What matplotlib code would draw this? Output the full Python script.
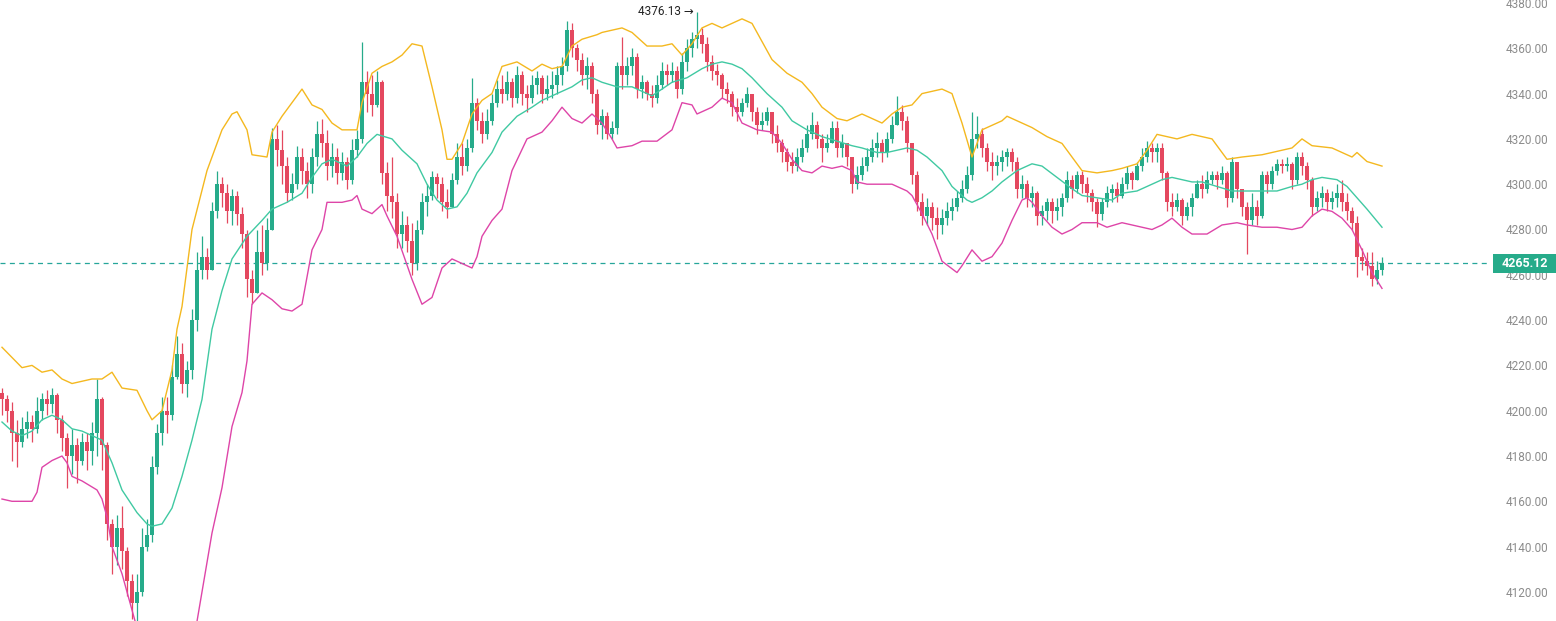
import matplotlib
matplotlib.use("Agg")
import matplotlib.pyplot as plt
from matplotlib.patches import Rectangle
from matplotlib.transforms import blended_transform_factory
import numpy as np

plt.rcParams['font.family'] = ['Roboto', 'DejaVu Sans']

# candle data (one candle per bar)
closes = [
    4205, 4200, 4190, 4186, 4192, 4195, 4192, 4200, 4205, 4203,
    4207, 4196, 4188, 4180, 4185, 4178, 4186, 4182, 4190, 4205,
    4185, 4150, 4140, 4148, 4138, 4125, 4115, 4120, 4140, 4145,
    4175, 4190, 4200, 4198, 4215, 4225, 4212, 4218, 4240, 4262,
    4268, 4262, 4288, 4300, 4296, 4288, 4295, 4287, 4278, 4258,
    4252, 4270, 4265, 4280, 4320, 4315, 4308, 4296, 4300, 4312,
    4306, 4300, 4312, 4322, 4318, 4308, 4312, 4305, 4310, 4302,
    4315, 4320, 4345, 4340, 4335, 4345, 4305, 4295, 4292, 4278,
    4282, 4275, 4265, 4280, 4292, 4295, 4303, 4300, 4292, 4290,
    4302, 4312, 4308, 4316, 4336, 4328, 4322, 4328, 4336, 4342,
    4340, 4345, 4338, 4348, 4340, 4338, 4344, 4347, 4340, 4342,
    4344, 4348, 4352, 4368, 4360, 4355, 4348, 4352, 4340, 4326,
    4330, 4322, 4325, 4352, 4348, 4352, 4356, 4342, 4345, 4340,
    4338, 4344, 4350, 4348, 4350, 4342, 4354, 4360, 4364, 4366,
    4362, 4354, 4350, 4348, 4342, 4340, 4334, 4332, 4336, 4340,
    4332, 4326, 4328, 4332, 4322, 4318, 4314, 4310, 4308, 4312,
    4316, 4322, 4326, 4320, 4316, 4318, 4325, 4316, 4318, 4312,
    4300, 4304, 4308, 4312, 4316, 4318, 4314, 4320, 4326, 4332,
    4328, 4318, 4304, 4292, 4286, 4290, 4285, 4282, 4285, 4288,
    4290, 4294, 4298, 4304, 4320, 4322, 4316, 4310, 4308, 4310,
    4312, 4314, 4310, 4298, 4300, 4294, 4296, 4286, 4288, 4292,
    4288, 4290, 4294, 4302, 4298, 4304, 4300, 4296, 4292, 4287,
    4292, 4296, 4298, 4295, 4300, 4305, 4302, 4308, 4312, 4316,
    4314, 4316, 4305, 4292, 4290, 4293, 4286, 4290, 4294, 4300,
    4298, 4302, 4304, 4302, 4305, 4294, 4310, 4298, 4290, 4284,
    4290, 4286, 4304, 4300, 4306, 4309, 4308, 4309, 4302, 4312,
    4308, 4302, 4290, 4294, 4296, 4292, 4294, 4296, 4292, 4288,
    4283, 4268, 4266, 4264, 4258, 4262, 4265.12,
]
highs = [
    4210, 4207, 4204, 4196, 4197, 4200, 4198, 4206, 4208, 4209,
    4210, 4208, 4198, 4190, 4192, 4188, 4190, 4190, 4195, 4214,
    4206, 4186, 4152, 4154, 4158, 4140, 4128, 4128, 4148, 4152,
    4180, 4194, 4206, 4206, 4220, 4233, 4230, 4222, 4245, 4270,
    4277, 4272, 4292, 4306, 4303, 4300, 4298, 4297, 4290, 4280,
    4262, 4280, 4282, 4285, 4325, 4326, 4324, 4312, 4305, 4317,
    4316, 4310, 4316, 4328, 4329, 4324, 4318, 4316, 4314, 4312,
    4320, 4324, 4363, 4350, 4348, 4350, 4346, 4310, 4312, 4296,
    4288, 4286, 4283, 4284, 4296, 4300, 4306, 4305, 4303, 4298,
    4305, 4318, 4318, 4320, 4347, 4338, 4332, 4333, 4340, 4346,
    4348, 4350, 4347, 4352, 4350, 4344, 4348, 4350, 4348, 4348,
    4350, 4352, 4356, 4372, 4371, 4362, 4358, 4356, 4354, 4342,
    4333, 4332, 4328, 4354, 4365, 4356, 4360, 4358, 4348, 4346,
    4344, 4348, 4354, 4353, 4354, 4352, 4358, 4364, 4367, 4376.13,
    4369, 4365, 4357, 4353, 4349, 4345, 4341, 4338, 4338, 4343,
    4340, 4334, 4332, 4334, 4332, 4326, 4320, 4316, 4314, 4316,
    4320, 4326, 4332, 4328, 4322, 4322, 4328, 4328, 4322, 4318,
    4312, 4308, 4312, 4316, 4320, 4323, 4320, 4323, 4330, 4339,
    4335, 4330, 4318, 4306, 4296, 4294, 4292, 4290, 4289, 4292,
    4294, 4297, 4302, 4308, 4332, 4330, 4325, 4318, 4314, 4313,
    4315, 4316, 4316, 4312, 4304, 4302, 4299, 4297, 4291, 4294,
    4294, 4294, 4296, 4306, 4304, 4306, 4306, 4303, 4298, 4294,
    4294, 4299, 4300, 4301, 4303, 4308, 4306, 4310, 4316, 4319,
    4318, 4318, 4318, 4306, 4296, 4296, 4294, 4292, 4296, 4302,
    4304, 4306, 4306, 4306, 4308, 4306, 4312, 4310, 4298, 4292,
    4296, 4293, 4306, 4306, 4308, 4311, 4311, 4312, 4310, 4314,
    4314, 4310, 4303, 4297, 4299, 4298, 4297, 4300, 4302, 4296,
    4290, 4286, 4272, 4270, 4270, 4266, 4268,
]
lows = [
    4198, 4195, 4178, 4175, 4184, 4188, 4186, 4190, 4196, 4198,
    4199, 4190, 4182, 4166, 4172, 4168, 4176, 4174, 4176, 4180,
    4174, 4143, 4128, 4132, 4130, 4118, 4108, 4104.03, 4118, 4138,
    4142, 4172, 4185, 4190, 4196, 4214, 4208, 4206, 4214, 4235,
    4258, 4258, 4262, 4285, 4290, 4283, 4282, 4282, 4272, 4250,
    4247, 4252, 4260, 4262, 4282, 4308, 4300, 4292, 4293, 4298,
    4300, 4294, 4296, 4308, 4312, 4302, 4303, 4300, 4302, 4298,
    4300, 4312, 4318, 4332, 4330, 4334, 4300, 4288, 4285, 4272,
    4272, 4270, 4260, 4262, 4278, 4286, 4293, 4294, 4288, 4285,
    4290, 4300, 4304, 4306, 4314, 4324, 4318, 4320, 4326, 4334,
    4336, 4337, 4334, 4336, 4335, 4332, 4336, 4340, 4336, 4337,
    4338, 4340, 4344, 4350, 4356, 4350, 4344, 4342, 4336, 4322,
    4320, 4320, 4320, 4322, 4342, 4344, 4348, 4338, 4338, 4337,
    4334, 4336, 4342, 4344, 4345, 4338, 4340, 4350, 4356, 4360,
    4358, 4350, 4346, 4344, 4338, 4336, 4330, 4328, 4330, 4334,
    4328, 4322, 4324, 4326, 4318, 4314, 4310, 4306, 4305, 4306,
    4310, 4314, 4320, 4316, 4310, 4314, 4318, 4312, 4312, 4308,
    4296, 4298, 4302, 4306, 4310, 4312, 4310, 4312, 4318, 4326,
    4324, 4314, 4300, 4288, 4282, 4282, 4280, 4276, 4278, 4282,
    4284, 4288, 4292, 4296, 4302, 4316, 4312, 4306, 4302, 4304,
    4306, 4308, 4306, 4294, 4294, 4290, 4290, 4282, 4282, 4284,
    4283, 4284, 4286, 4292, 4294, 4296, 4296, 4292, 4288, 4281,
    4284, 4290, 4292, 4292, 4294, 4298, 4298, 4302, 4306, 4310,
    4310, 4310, 4302, 4288, 4286, 4288, 4282, 4284, 4286, 4294,
    4294, 4296, 4300, 4298, 4300, 4290, 4292, 4294, 4286, 4269,
    4282, 4282, 4285, 4296, 4298, 4304, 4305, 4306, 4298, 4300,
    4304, 4298, 4286, 4288, 4290, 4288, 4289, 4290, 4288, 4284,
    4280, 4259, 4262, 4260, 4255, 4256, 4260,
]
first_open = 4208

# Bollinger bands, (candle index, value)
upper_band = [
    (0, 4228), (4, 4219), (6, 4220), (8, 4217), (10, 4218), (12, 4214), (14, 4212),
    (16, 4213), (18, 4214), (20, 4214), (22, 4217), (24, 4210), (27, 4209), (29, 4200),
    (30, 4196), (32, 4200), (34, 4218), (35, 4236), (36, 4246), (38, 4280), (41, 4306),
    (44, 4324), (46, 4331), (47, 4332), (49, 4324), (50, 4313), (53, 4312), (54, 4323),
    (56, 4330), (58, 4336), (60, 4342), (62, 4335), (64, 4333), (66, 4327), (68, 4324),
    (71, 4324), (72, 4336), (74, 4349), (76, 4352), (78, 4354), (80, 4357), (82, 4362),
    (84, 4361), (86, 4343), (88, 4324), (89, 4311), (90, 4311), (92, 4318), (94, 4331),
    (96, 4337), (98, 4340), (100, 4352), (103, 4354), (106, 4350), (108, 4353), (110, 4351),
    (112, 4352), (114, 4361), (116, 4364), (119, 4366), (120, 4367), (124, 4369), (126, 4367),
    (129, 4361), (132, 4361), (134, 4362), (136, 4357), (138, 4362), (140, 4369), (142, 4371),
    (144, 4369), (148, 4373), (150, 4371), (154, 4355), (157, 4349), (160, 4345), (162, 4340),
    (164, 4334), (167, 4329), (169, 4328), (172, 4331), (176, 4327), (178, 4331), (180, 4334),
    (182, 4335), (184, 4340), (188, 4342), (190, 4340), (192, 4327), (194, 4312), (195, 4318),
    (196, 4324), (200, 4328), (201, 4330), (204, 4327), (206, 4325), (209, 4321), (212, 4318),
    (214, 4312), (216, 4306), (219, 4305), (222, 4306), (224, 4307), (227, 4309), (229, 4315),
    (231, 4322), (233, 4321), (235, 4320), (238, 4322), (242, 4320), (245, 4311), (248, 4312),
    (252, 4313), (254, 4314), (258, 4316), (260, 4320), (262, 4317), (266, 4316), (270, 4312),
    (271, 4314), (273, 4310), (276, 4308),
]
middle_band = [
    (0, 4195), (2, 4191), (4, 4189), (6, 4191), (8, 4196), (10, 4198), (12, 4196),
    (14, 4192), (16, 4191), (18, 4189), (20, 4187), (22, 4177), (24, 4165), (27, 4155),
    (29, 4150), (30, 4149), (32, 4150), (34, 4157), (36, 4171), (38, 4187), (40, 4205),
    (42, 4236), (44, 4253), (46, 4267), (49, 4277), (52, 4284), (54, 4289), (57, 4292),
    (60, 4296), (62, 4303), (64, 4309), (66, 4311), (69, 4308), (71, 4312), (73, 4318),
    (75, 4322), (78, 4320), (80, 4315), (83, 4309), (85, 4300), (87, 4293), (89, 4289),
    (91, 4290), (93, 4296), (95, 4305), (98, 4314), (100, 4323), (103, 4330), (106, 4334),
    (108, 4337), (111, 4340), (114, 4343), (116, 4346), (118, 4347), (120, 4345), (123, 4343),
    (126, 4343), (128, 4341), (130, 4339), (132, 4342), (134, 4345), (137, 4347), (140, 4351),
    (142, 4353), (144, 4354), (146, 4353), (148, 4351), (150, 4347), (153, 4340), (156, 4334),
    (158, 4328), (161, 4324), (164, 4321), (167, 4319), (170, 4317), (172, 4316), (175, 4314),
    (177, 4314), (179, 4315), (181, 4316), (183, 4315), (185, 4312), (188, 4306), (190, 4299),
    (193, 4293), (194, 4292), (196, 4294), (198, 4297), (200, 4301), (203, 4306), (206, 4309),
    (208, 4308), (211, 4303), (214, 4298), (216, 4295), (219, 4294), (222, 4293), (224, 4296),
    (227, 4297), (230, 4300), (232, 4302), (234, 4303), (238, 4301), (240, 4301), (243, 4299),
    (246, 4297), (250, 4297), (252, 4297), (255, 4297), (258, 4299), (260, 4300), (262, 4302),
    (264, 4303), (267, 4302), (269, 4299), (271, 4294), (273, 4289), (276, 4281),
]
lower_band = [
    (0, 4161), (2, 4160), (6, 4160), (7, 4164), (8, 4175), (10, 4178), (12, 4180),
    (13, 4177), (14, 4171), (16, 4169), (19, 4165), (20, 4161), (21, 4153), (22, 4140),
    (24, 4128), (26, 4112), (27, 4104), (30, 4098), (33, 4090), (36, 4087), (38, 4095),
    (39, 4107), (41, 4133), (42, 4146), (44, 4166), (46, 4193), (48, 4208), (49, 4222),
    (50, 4247), (52, 4252), (54, 4249), (56, 4245), (58, 4244), (60, 4247), (62, 4271),
    (64, 4280), (65, 4292), (68, 4292), (70, 4293), (71, 4295), (72, 4289), (74, 4287),
    (76, 4291), (77, 4286), (79, 4277), (82, 4258), (84, 4247), (86, 4250), (88, 4263),
    (90, 4267), (92, 4265), (94, 4263), (95, 4268), (96, 4277), (98, 4284), (100, 4289),
    (102, 4306), (105, 4320), (108, 4323), (110, 4328), (112, 4334), (114, 4329), (116, 4327),
    (118, 4331), (120, 4327), (122, 4320), (123, 4316), (126, 4317), (128, 4319), (131, 4319),
    (134, 4324), (136, 4336), (138, 4335), (139, 4331), (142, 4334), (144, 4338), (146, 4336),
    (148, 4327), (151, 4324), (154, 4323), (156, 4318), (158, 4311), (160, 4306), (162, 4305),
    (164, 4308), (166, 4307), (168, 4308), (170, 4306), (171, 4301), (173, 4300), (176, 4300),
    (178, 4300), (181, 4297), (182, 4295), (184, 4287), (186, 4278), (188, 4266), (191, 4261),
    (192, 4264), (194, 4271), (196, 4266), (198, 4268), (200, 4274), (202, 4284), (204, 4293),
    (205, 4294), (206, 4292), (208, 4286), (210, 4281), (212, 4278), (214, 4280), (216, 4283),
    (219, 4283), (221, 4281), (224, 4283), (226, 4282), (230, 4280), (232, 4282), (234, 4285),
    (236, 4281), (238, 4278), (241, 4278), (244, 4282), (247, 4283), (249, 4282), (252, 4281),
    (255, 4281), (258, 4280), (260, 4281), (262, 4286), (264, 4289), (266, 4288), (268, 4285),
    (270, 4280), (272, 4271), (274, 4261), (276, 4254),
]

UP = '#26ab8a'
DOWN = '#e4485f'

closes = np.array(closes, dtype=float)
highs = np.array(highs, dtype=float)
lows = np.array(lows, dtype=float)
opens = np.concatenate([[first_open], closes[:-1]])
idx = np.arange(len(closes))
rising = closes >= opens
colors = np.where(rising, UP, DOWN)

fig = plt.figure(figsize=(15.56, 6.21), dpi=100)
ax = fig.add_axes([0, 0, 1490 / 1556, 1])

# wicks and bodies
top = np.maximum.reduce([highs, opens, closes])
bot = np.minimum.reduce([lows, opens, closes])
ax.vlines(idx, bot, top, colors=colors, linewidth=0.9, zorder=2)
body_lo = np.minimum(opens, closes)
body_h = np.maximum(np.abs(closes - opens), 0.4)
ax.bar(idx, body_h, bottom=body_lo, width=0.62, color=colors, linewidth=0, zorder=3)

# bands
for band, col in [(upper_band, '#f4b81f'), (middle_band, '#40c9a2'), (lower_band, '#de45a8')]:
    bx, by = zip(*band)
    ax.plot(bx, by, color=col, linewidth=1.0, zorder=4)

# last price line and tag
last = closes[-1]
ax.axhline(last, color='#26a69a', linewidth=0.9, linestyle=(0, (4, 3.5)), zorder=1)
trans = blended_transform_factory(fig.transFigure, ax.transData)
ax.add_patch(Rectangle((1493 / 1556, last - 4.2), 63 / 1556, 8.4, transform=trans,
                       facecolor=UP, edgecolor='none', clip_on=False, zorder=6))
ax.text(1525 / 1556, last, '%.2f' % last, transform=trans, ha='center', va='center',
        color='white', fontsize=9, fontweight='bold', zorder=7)

# high / low annotations
hi_i = int(np.argmax(highs))
lo_i = int(np.argmin(lows))
ax.text(hi_i - 0.7, highs[hi_i], '%.2f \u2192' % highs[hi_i], ha='right', va='center',
        fontsize=8.5, color='#222222', family=['Roboto', 'DejaVu Sans'])
ax.text(lo_i + 0.7, lows[lo_i], '\u2190 %.2f' % lows[lo_i], ha='left', va='center',
        fontsize=8.5, color='#222222', family=['Roboto', 'DejaVu Sans'])

ax.set_xlim(-0.4, 297.6)
ax.set_ylim(4380 - 618 / 2.265, 4380 + 3 / 2.265)

ax.yaxis.tick_right()
ax.set_yticks(np.arange(4120, 4381, 20))
ax.yaxis.set_major_formatter(matplotlib.ticker.FormatStrFormatter('%.2f'))
ax.tick_params(axis='y', length=0, pad=11, labelsize=8.5, labelcolor='#8c8c8c')
ax.set_xticks([])
for s in ax.spines.values():
    s.set_visible(False)

fig.savefig('out.png', dpi=100)
